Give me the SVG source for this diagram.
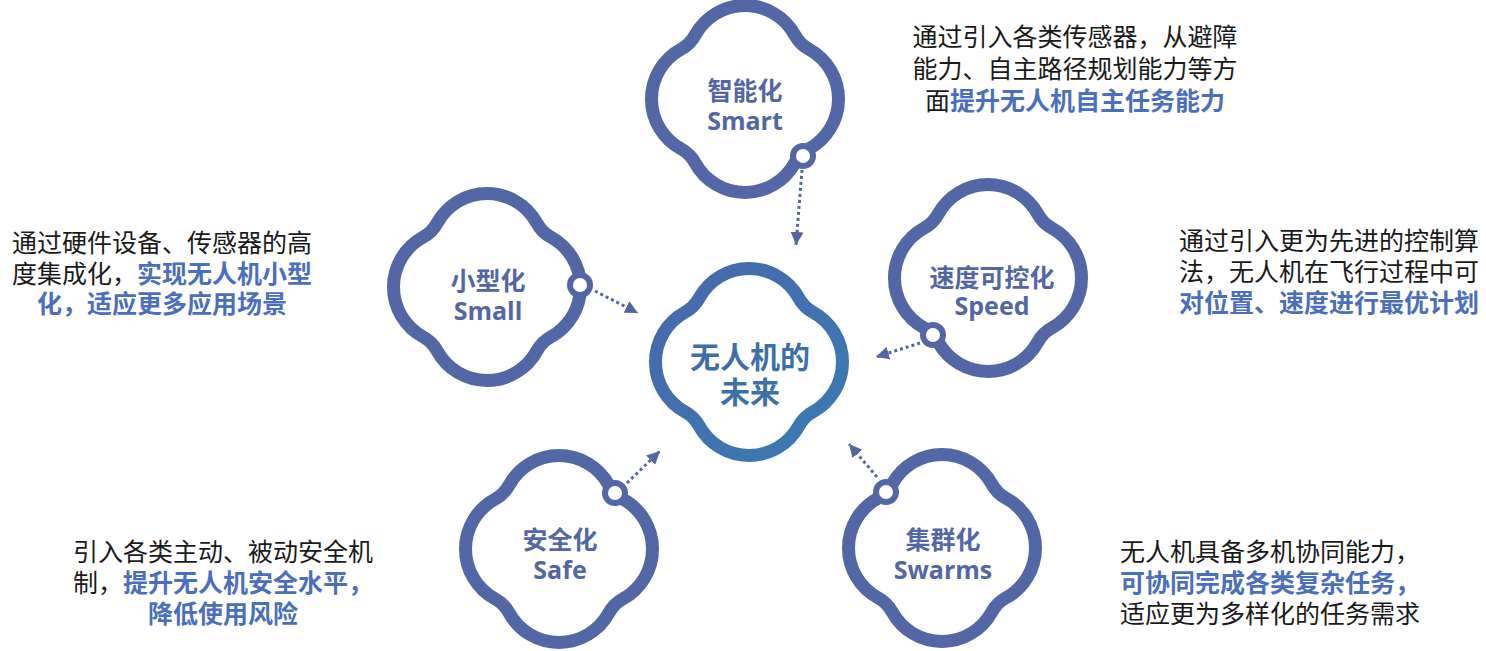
<svg xmlns="http://www.w3.org/2000/svg" width="1486" height="651" viewBox="0 0 1486 651">
<style>
.q{fill:none;stroke:#5366a6;stroke-width:13}
.qc{fill:none;stroke:url(#cg);stroke-width:13}
.dot{fill:#fff;stroke:#5366a6;stroke-width:6}
.t{font-family:"Open Sans","Noto Sans CJK SC",sans-serif;font-weight:700;font-size:25px;fill:#5366a6;text-anchor:middle}
.tc{font-family:"Noto Sans CJK SC",sans-serif;font-weight:700;font-size:30px;fill:#3d70aa;text-anchor:middle}
.d{font-family:"Noto Sans CJK SC",sans-serif;font-size:25px;fill:#1a1a1a}
.m{text-anchor:middle}
.b{font-weight:700;fill:#4a6fc0}
.c{fill:none;stroke:#5366a6;stroke-width:3;stroke-dasharray:3 3;marker-end:url(#ah)}
</style>
<defs>
<path id="qs" d="M63.87,-49.88 A56.8,56.8 0 0 1 63.87,49.88 A35,35 0 0 0 49.88,63.87 A56.8,56.8 0 0 1 -49.88,63.87 A35,35 0 0 0 -63.87,49.88 A56.8,56.8 0 0 1 -63.87,-49.88 A35,35 0 0 0 -49.88,-63.87 A56.8,56.8 0 0 1 49.88,-63.87 A35,35 0 0 0 63.87,-49.88 Z"/>
<linearGradient id="cg" x1="0" y1="0" x2="1" y2="1">
<stop offset="0" stop-color="#4768ab"/>
<stop offset="1" stop-color="#3a7bb4"/>
</linearGradient>
<marker id="ah" markerUnits="userSpaceOnUse" markerWidth="14" markerHeight="13" refX="13" refY="6.5" orient="auto">
<path d="M0,0 L13,6.5 L0,13 Z" fill="#5366a6"/>
</marker>
</defs>

<g id="node-smart">
<use href="#qs" class="q" transform="translate(745,99)"/>
<circle class="dot" cx="803" cy="156" r="10"/>
<text class="t" x="745" y="100">智能化</text>
<text class="t" x="745" y="130">Smart</text>
</g>
<g id="node-small">
<use href="#qs" class="q" transform="translate(487,287)"/>
<circle class="dot" cx="580" cy="285" r="10"/>
<text class="t" x="488" y="290">小型化</text>
<text class="t" x="488" y="320">Small</text>
</g>
<g id="node-speed">
<use href="#qs" class="q" transform="translate(988,278)"/>
<circle class="dot" cx="933" cy="335" r="10"/>
<text class="t" x="992" y="287">速度可控化</text>
<text class="t" x="992" y="315">Speed</text>
</g>
<g id="node-center">
<use href="#qs" class="qc" transform="translate(749,362)"/>
<text class="tc" x="750" y="368">无人机的</text>
<text class="tc" x="750" y="403">未来</text>
</g>
<g id="node-safe">
<use href="#qs" class="q" transform="translate(559,549)"/>
<circle class="dot" cx="615" cy="493" r="10"/>
<text class="t" x="560" y="549">安全化</text>
<text class="t" x="560" y="579">Safe</text>
</g>
<g id="node-swarms">
<use href="#qs" class="q" transform="translate(942,548)"/>
<circle class="dot" cx="886" cy="492" r="10"/>
<text class="t" x="943" y="549">集群化</text>
<text class="t" x="943" y="579">Swarms</text>
</g>

<g id="connectors">
<line class="c" x1="802" y1="170" x2="796" y2="245"/>
<line class="c" x1="595" y1="291" x2="638" y2="313"/>
<line class="c" x1="920" y1="343" x2="876" y2="357"/>
<line class="c" x1="627" y1="483" x2="660" y2="451"/>
<line class="c" x1="877" y1="477" x2="849" y2="444"/>
</g>

<g id="desc-smart">
<text class="d m" x="1075" y="46">通过引入各类传感器，从避障</text>
<text class="d m" x="1075" y="78">能力、自主路径规划能力等方</text>
<text class="d m" x="1075" y="110">面<tspan class="b">提升无人机自主任务能力</tspan></text>
</g>
<g id="desc-small">
<text class="d m" x="162" y="252">通过硬件设备、传感器的高</text>
<text class="d m" x="162" y="283">度集成化，<tspan class="b">实现无人机小型</tspan></text>
<text class="d m b" x="162" y="313">化，适应更多应用场景</text>
</g>
<g id="desc-speed">
<text class="d m" x="1329" y="250">通过引入更为先进的控制算</text>
<text class="d m" x="1329" y="281">法，无人机在飞行过程中可</text>
<text class="d m b" x="1329" y="312">对位置、速度进行最优计划</text>
</g>
<g id="desc-safe">
<text class="d m" x="223" y="561">引入各类主动、被动安全机</text>
<text class="d m" x="223" y="592">制，<tspan class="b">提升无人机安全水平，</tspan></text>
<text class="d m b" x="223" y="623">降低使用风险</text>
</g>
<g id="desc-swarms">
<text class="d" x="1120" y="561">无人机具备多机协同能力，</text>
<text class="d b" x="1120" y="592">可协同完成各类复杂任务，</text>
<text class="d" x="1120" y="623">适应更为多样化的任务需求</text>
</g>
</svg>
